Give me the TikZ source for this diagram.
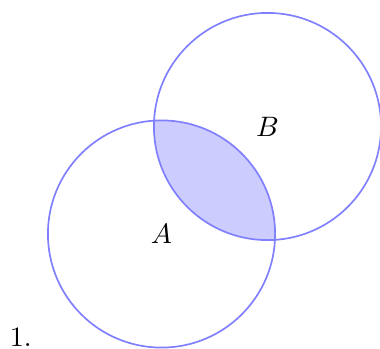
\documentclass[tikz,border=0pt]{standalone}
\usepackage{tikz}
\usetikzlibrary{positioning}

\begin{document}
\begin{tikzpicture}[set/.style={draw=blue!50,semithick},overlap/.style={fill=blue!20}]
\useasboundingbox (0,0) rectangle (4.75,4.3625);
\coordinate (ca) at (2.019,1.4375);
\coordinate (cb) at (3.344,2.781);
\begin{scope}
\clip (ca) circle (1.42);
\fill[overlap] (cb) circle (1.42);
\end{scope}
\draw[set] (ca) circle (1.42); \draw[set] (cb) circle (1.42);
\node (a) at (ca) {$A$};
\node (b) at (cb) {$B$};
\node (num) at (0.26,0.15) {1.};
\end{tikzpicture}
\end{document}
